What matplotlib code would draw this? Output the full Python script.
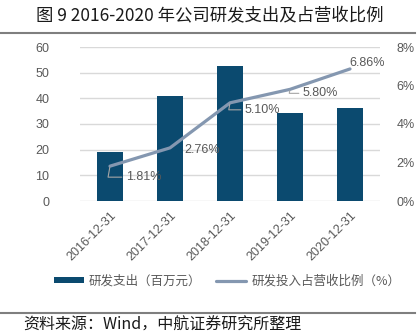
import numpy as np
import matplotlib.pyplot as plt
from matplotlib.lines import Line2D

plt.rcParams['font.family'] = ['Noto Sans CJK SC', 'DejaVu Sans']

years = ['2016-12-31', '2017-12-31', '2018-12-31', '2019-12-31', '2020-12-31']
rd_spend = [19.1, 40.9, 52.5, 34.3, 36.2]          # 百万元
rd_ratio = [1.81, 2.76, 5.10, 5.80, 6.86]          # %
ratio_labels = ['1.81%', '2.76%', '5.10%', '5.80%', '6.86%']

bar_color = '#0B4A6F'
line_color = '#8497B0'
text_color = '#595959'
grid_color = '#D9D9D9'

fig = plt.figure(figsize=(4.2, 3.34), dpi=100)
ax = fig.add_axes([80/420, 1 - 201/334, 300/420, 154/334])
ax2 = ax.twinx()

x = np.arange(len(years))
bars = ax.bar(x, rd_spend, width=0.43, color=bar_color, zorder=2)
ax.set_xlim(-0.5, len(years) - 0.5)
ax.set_ylim(0, 60)
ax.set_yticks(np.arange(0, 61, 10))
ax.yaxis.grid(True, color=grid_color, linewidth=1.0, zorder=0)
ax.set_axisbelow(True)
ax.set_xticks(x)
ax.set_xticklabels(years, rotation=45, ha='right', rotation_mode='anchor',
                   family=['Liberation Sans'], fontsize=9, color=text_color)
for lbl in ax.get_yticklabels():
    lbl.set_family(['Liberation Sans'])
ax.tick_params(axis='y', length=0, pad=22, labelsize=9, labelcolor=text_color)
ax.tick_params(axis='x', length=0, pad=6)
for s in ax.spines.values():
    s.set_visible(False)

line, = ax2.plot(x, rd_ratio, color=line_color, linewidth=2.3, zorder=3,
                 solid_capstyle='round')
ax2.set_ylim(0, 8)
ax2.set_yticks(np.arange(0, 9, 2))
ax2.set_yticklabels([f'{v}%' for v in range(0, 9, 2)], family=['Liberation Sans'])
ax2.tick_params(axis='y', length=0, pad=12, labelsize=9, labelcolor=text_color)
for s in ax2.spines.values():
    s.set_visible(False)

offsets = [(16, -11), (14, -2), (15, -7), (13, -4), (-1, 6)]
leaders = [True, False, True, True, False]
for xi, yi, lab, (dx, dy), lead in zip(x, rd_ratio, ratio_labels, offsets, leaders):
    ax2.annotate(lab, (xi, yi), xytext=(dx, dy), textcoords='offset pixels',
                 ha='left', va='center', fontsize=9, color=text_color,
                 family=['Liberation Sans'], zorder=4,
                 arrowprops=dict(arrowstyle='-', color='#A6A6A6', lw=0.8,
                                 shrinkA=1, shrinkB=1,
                                 connectionstyle='angle,angleA=0,angleB=80,rad=0')
                 if lead else None)

fig.legend([bars, line], ['研发支出（百万元）', '研发投入占营收比例（%）'],
           loc='center', bbox_to_anchor=(227/420, 1 - 281/334), ncol=2,
           frameon=False, fontsize=9, handlelength=2.4, handleheight=0.45,
           columnspacing=1.2, handletextpad=0.4, labelcolor=text_color)

fig.text(210/420, 1 - 15/334, '图 9 2016-2020 年公司研发支出及占营收比例',
         ha='center', va='center', fontsize=12.5, fontweight='medium', color='#1a1a1a')
fig.add_artist(Line2D([0, 415/420], [1 - 33/334] * 2, color='#7F7F7F', linewidth=1.5))
fig.add_artist(Line2D([0, 415/420], [1 - 313/334] * 2, color='#7F7F7F', linewidth=1.5))
fig.text(23/420, 1 - 325/334, '资料来源：Wind，中航证券研究所整理',
         ha='left', va='center', fontsize=11.5, color='#1a1a1a')

fig.savefig('out.png', dpi=100)
